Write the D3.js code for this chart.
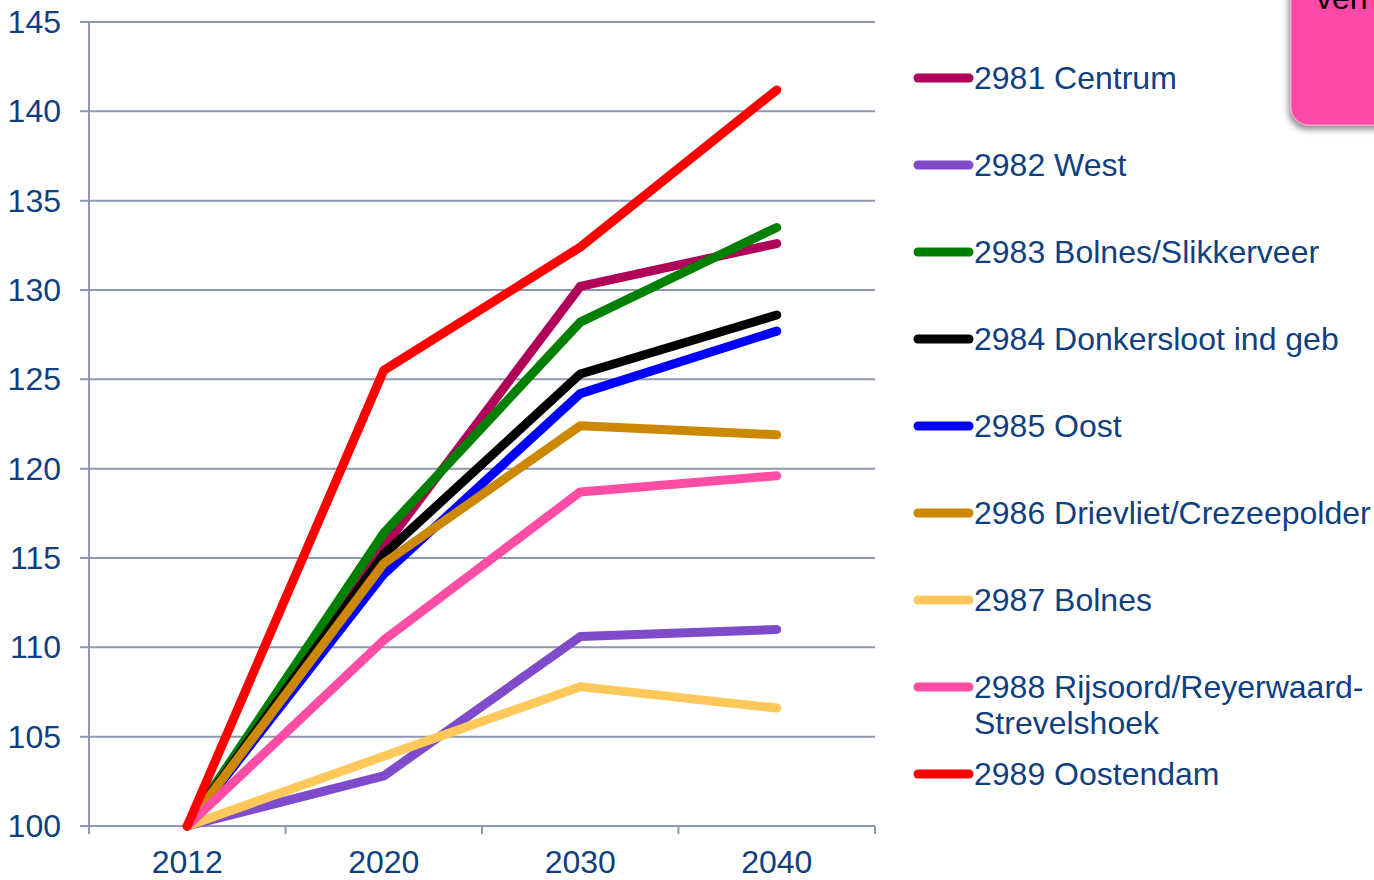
<!DOCTYPE html>
<html><head><meta charset="utf-8">
<script src="https://cdn.jsdelivr.net/npm/d3@7"></script>
<style>
html,body{margin:0;padding:0;background:#fff;overflow:hidden;}
svg{display:block;font-family:"Liberation Sans",Arial,sans-serif;}
</style></head>
<body>
<svg id="c" width="1374" height="880"></svg>
<script>
const years = ["2012","2020","2030","2040"];
const yTicks = [100,105,110,115,120,125,130,135,140,145];
const seriesNames = ["2981 Centrum","2982 West","2983 Bolnes/Slikkerveer","2984 Donkersloot ind geb","2985 Oost","2986 Drievliet/Crezeepolder","2987 Bolnes","2988 Rijsoord/Reyerwaard-Strevelshoek","2989 Oostendam"];
const centrum    = [100,115.6,130.2,132.6];
const west       = [100,102.8,110.6,111.0];
const bolnesSl   = [100,116.4,128.2,133.5];
const donkers    = [100,115.2,125.3,128.6];
const oost       = [100,114.1,124.2,127.7];
const drievliet  = [100,114.7,122.4,121.9];
const bolnes     = [100,103.9,107.8,106.6];
const rijsoord   = [100,110.4,118.7,119.6];
const oostendam  = [100,125.5,132.4,141.2];
const seriesValues = [centrum,west,bolnesSl,donkers,oost,drievliet,bolnes,rijsoord,oostendam];
const colors = ["#B0005A","#7F4BCB","#008000","#000000","#0000FF","#CC8800","#FFC85A","#FF4DA6","#FF0000"];
const legendLines = [["2981 Centrum"],["2982 West"],["2983 Bolnes/Slikkerveer"],["2984 Donkersloot ind geb"],["2985 Oost"],["2986 Drievliet/Crezeepolder"],["2987 Bolnes"],["2988 Rijsoord/Reyerwaard-","Strevelshoek"],["2989 Oostendam"]];

const svg = d3.select("#c");
const L=89, R=875, T=22, B=826;
const textCol = "#0F3F7F", gridCol = "#8F97B1";
const FS = 32;

const x = d3.scaleBand().domain(years).range([L,R]);
const y = d3.scaleLinear().domain([100,145]).range([B,T]);

// pink box top right
const defs = svg.append("defs");
const f = defs.append("filter").attr("id","sh").attr("x","-20%").attr("y","-20%").attr("width","150%").attr("height","150%");
f.append("feDropShadow").attr("dx",-2).attr("dy",4).attr("stdDeviation",3).attr("flood-color","#000").attr("flood-opacity",0.45);
svg.append("rect").attr("x",1291).attr("y",-40).attr("width",120).attr("height",165).attr("rx",18)
  .attr("fill","#FF48A8").attr("stroke","#FF9CCB").attr("stroke-width",1).attr("filter","url(#sh)");
svg.append("text").attr("x",1316).attr("y",9).attr("font-size",FS).attr("fill","#000").text("ven");

// gridlines
svg.append("g").selectAll("line").data(yTicks).join("line")
  .attr("x1",L-9).attr("x2",R).attr("y1",d=>y(d)).attr("y2",d=>y(d))
  .attr("stroke",gridCol).attr("stroke-width",2);

// y axis line
svg.append("line").attr("x1",L).attr("x2",L).attr("y1",T).attr("y2",B+8).attr("stroke",gridCol).attr("stroke-width",2);
// x ticks
const xt = [L, ...years.slice(1).map(d=>x(d)), R];
svg.append("g").selectAll("line").data(xt).join("line")
  .attr("x1",d=>d).attr("x2",d=>d).attr("y1",B).attr("y2",B+8).attr("stroke",gridCol).attr("stroke-width",2);

// y labels
svg.append("g").selectAll("text").data(yTicks).join("text")
  .attr("x",61).attr("y",d=>y(d)+11).attr("text-anchor","end").attr("font-size",FS).attr("fill",textCol).text(d=>d);
// x labels
svg.append("g").selectAll("text").data(years).join("text")
  .attr("x",d=>x(d)+x.bandwidth()/2).attr("y",873).attr("text-anchor","middle").attr("font-size",FS).attr("fill",textCol).text(d=>d);

// lines
const line = d3.line().x((d,i)=>x(years[i])+x.bandwidth()/2).y(d=>y(d));
svg.append("g").selectAll("path").data(seriesValues).join("path")
  .attr("d",line).attr("fill","none").attr("stroke",(d,i)=>colors[i])
  .attr("stroke-width",9).attr("stroke-linejoin","round").attr("stroke-linecap","round");

// legend
const lg = svg.append("g");
seriesNames.forEach((n,i)=>{
  const yy = 78 + i*87;
  lg.append("line").attr("x1",918).attr("x2",969).attr("y1",yy).attr("y2",yy)
    .attr("stroke",colors[i]).attr("stroke-width",9).attr("stroke-linecap","round");
  const t = lg.append("text").attr("x",974).attr("y",yy+11).attr("font-size",FS).attr("fill",textCol);
  legendLines[i].forEach((s,j)=>t.append("tspan").attr("x",974).attr("dy",j===0?0:36).text(s));
});
</script>
</body></html>
